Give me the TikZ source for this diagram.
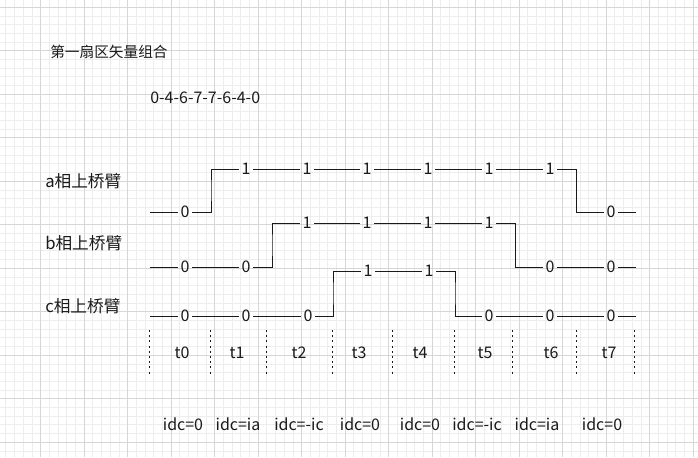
\documentclass[tikz,border=0pt]{standalone}
\usepackage{fontspec}
\setmainfont{Noto Sans CJK SC}
\usepackage{xcolor}
\usetikzlibrary{calc}

\definecolor{gridminor}{HTML}{EDEDED}
\definecolor{gridmajor}{HTML}{D6D6D6}
\definecolor{ink}{HTML}{1A1A1A}

\begin{document}
\begin{tikzpicture}[x=0.75pt,y=-0.75pt]

\tikzset{
    bit/.style = {
    inner sep=2pt,
    text=ink,
    font=\fontsize{12}{14}\selectfont
    }
}

\tikzstyle{wave}=[line width=0.75pt, ink]
\tikzstyle{arm}=[anchor=west, inner sep=0pt, text=ink, font=\fontsize{12.5}{15}\selectfont]
\tikzstyle{slot}=[inner sep=0pt, text=ink, font=\fontsize{12}{14}\selectfont]
\tikzstyle{sep}=[line width=0.75pt, ink, dash pattern=on 1.5pt off 2.4pt]

\useasboundingbox (0,0) rectangle (698,457);
\fill[white] (0,0) rectangle (698,457);

% grid
\foreach \x in {5.9,14.6,...,698} \draw[gridminor, line width=0.75pt] (\x,0) -- (\x,457);
\foreach \y in {7.3,16,...,457} \draw[gridminor, line width=0.75pt] (0,\y) -- (698,\y);
\foreach \x in {-2.8,40.7,...,698} \draw[gridmajor, line width=0.75pt] (\x,0) -- (\x,457);
\foreach \y in {7.3,50.8,...,457} \draw[gridmajor, line width=0.75pt] (0,\y) -- (698,\y);

\node (title) [slot, anchor=west, font=\fontsize{11}{13}\selectfont] at (50,52) {第一扇区矢量组合};
\node (seq) [slot, anchor=west] at (150,98) {0-4-6-7-7-6-4-0};

\node (la) [arm] at (45,181) {a相上桥臂};
\node (lb) [arm] at (45,243) {b相上桥臂};
\node (lc) [arm] at (45,306) {c相上桥臂};

% a
\coordinate (as) at (150,212);
\node (a0) [bit] at (185,212) {0};
\node (a1) [bit] at (246,169) {1};
\node (a2) [bit] at (307,169) {1};
\node (a3) [bit] at (367,169) {1};
\node (a4) [bit] at (428,169) {1};
\node (a5) [bit] at (489,169) {1};
\node (a6) [bit] at (550,169) {1};
\node (a7) [bit] at (611,212) {0};
\coordinate (au) at (211,190);
\coordinate (ad) at (576,190);
\coordinate (ae) at (636,212);
\draw [wave] (as) -- (a0) -| (au) |- (a1) -- (a2) -- (a3) -- (a4) -- (a5) -- (a6) -| (ad) |- (a7) -- (ae);

% b
\coordinate (bs) at (150,267);
\node (b0) [bit] at (185,267) {0};
\node (b1) [bit] at (246,267) {0};
\node (b2) [bit] at (307,223) {1};
\node (b3) [bit] at (367,223) {1};
\node (b4) [bit] at (428,223) {1};
\node (b5) [bit] at (489,223) {1};
\node (b6) [bit] at (550,267) {0};
\node (b7) [bit] at (611,267) {0};
\coordinate (bu) at (272,245);
\coordinate (bd) at (515,245);
\coordinate (be) at (636,267);
\draw [wave] (bs) -- (b0) -- (b1) -| (bu) |- (b2) -- (b3) -- (b4) -- (b5) -| (bd) |- (b6) -- (b7) -- (be);

% c
\coordinate (cs) at (150,316);
\node (c0) [bit] at (185,316) {0};
\node (c1) [bit] at (246,316) {0};
\node (c2) [bit] at (308,316) {0};
\node (c3) [bit] at (368,271) {1};
\node (c4) [bit] at (429,271) {1};
\node (c5) [bit] at (489,316) {0};
\node (c6) [bit] at (550,316) {0};
\node (c7) [bit] at (611,316) {0};
\coordinate (cu) at (333,293);
\coordinate (cd) at (455,293);
\coordinate (ce) at (636,316);
\draw [wave] (cs) -- (c0) -- (c1) -- (c2) -| (cu) |- (c3) -- (c4) -| (cd) |- (c5) -- (c6) -- (c7) -- (ce);

% time slots
\foreach \x in {149,210,266,332,392,454,512,576,634} \draw[sep] (\x,330) -- (\x,376);

\node (t0) [slot] at (182,353) {t0};
\node (t1) [slot] at (237,353) {t1};
\node (t2) [slot] at (299,353) {t2};
\node (t3) [slot] at (359,353) {t3};
\node (t4) [slot] at (420,353) {t4};
\node (t5) [slot] at (485,353) {t5};
\node (t6) [slot] at (551,353) {t6};
\node (t7) [slot] at (609,353) {t7};

\node (i0) [slot] at (183,424) {idc=0};
\node (i1) [slot] at (238,424) {idc=ia};
\node (i2) [slot] at (299,424) {idc=-ic};
\node (i3) [slot] at (360,424) {idc=0};
\node (i4) [slot] at (420,424) {idc=0};
\node (i5) [slot] at (477,424) {idc=-ic};
\node (i6) [slot] at (537,424) {idc=ia};
\node (i7) [slot] at (602,424) {idc=0};

\end{tikzpicture}
\end{document}
